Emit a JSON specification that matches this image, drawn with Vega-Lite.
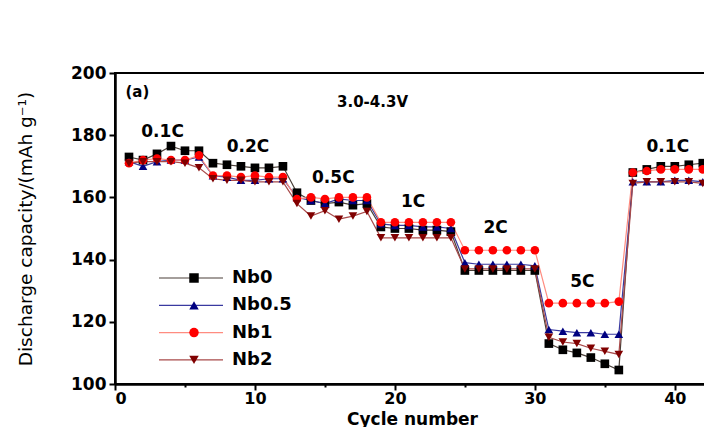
{
  "$schema": "https://vega.github.io/schema/vega-lite/v6.json",
  "autosize": "none",
  "width": 592,
  "height": 311,
  "padding": {"left": 115, "top": 73, "right": 0, "bottom": 43},
  "background": "white",
  "config": {
    "view": {"stroke": "black", "strokeWidth": 2},
    "font": "DejaVu Sans",
    "axis": {
      "domainColor": "black", "domainWidth": 2.5,
      "tickColor": "black", "tickWidth": 2,
      "labelFont": "DejaVu Sans", "labelFontWeight": "bold", "labelFontSize": 17, "labelColor": "black",
      "titleFont": "DejaVu Sans", "titleColor": "black",
      "grid": false
    }
  },
  "datasets": {
    "cap": [
      {"cycle":1,"s":"Nb0","v":173},{"cycle":2,"s":"Nb0","v":172},{"cycle":3,"s":"Nb0","v":174},{"cycle":4,"s":"Nb0","v":176.5},{"cycle":5,"s":"Nb0","v":175},{"cycle":6,"s":"Nb0","v":175},
      {"cycle":7,"s":"Nb0","v":171},{"cycle":8,"s":"Nb0","v":170.5},{"cycle":9,"s":"Nb0","v":170},{"cycle":10,"s":"Nb0","v":169.5},{"cycle":11,"s":"Nb0","v":169.5},{"cycle":12,"s":"Nb0","v":170},
      {"cycle":13,"s":"Nb0","v":161.5},{"cycle":14,"s":"Nb0","v":159},{"cycle":15,"s":"Nb0","v":158},{"cycle":16,"s":"Nb0","v":158.5},{"cycle":17,"s":"Nb0","v":157.5},{"cycle":18,"s":"Nb0","v":158},
      {"cycle":19,"s":"Nb0","v":150.5},{"cycle":20,"s":"Nb0","v":150},{"cycle":21,"s":"Nb0","v":150},{"cycle":22,"s":"Nb0","v":149.5},{"cycle":23,"s":"Nb0","v":149.5},{"cycle":24,"s":"Nb0","v":149},
      {"cycle":25,"s":"Nb0","v":136.5},{"cycle":26,"s":"Nb0","v":136.5},{"cycle":27,"s":"Nb0","v":136.5},{"cycle":28,"s":"Nb0","v":136.5},{"cycle":29,"s":"Nb0","v":136.5},{"cycle":30,"s":"Nb0","v":136.5},
      {"cycle":31,"s":"Nb0","v":113},{"cycle":32,"s":"Nb0","v":111},{"cycle":33,"s":"Nb0","v":110},{"cycle":34,"s":"Nb0","v":108.5},{"cycle":35,"s":"Nb0","v":106.5},{"cycle":36,"s":"Nb0","v":104.5},
      {"cycle":37,"s":"Nb0","v":168},{"cycle":38,"s":"Nb0","v":169},{"cycle":39,"s":"Nb0","v":170},{"cycle":40,"s":"Nb0","v":170},{"cycle":41,"s":"Nb0","v":170.5},{"cycle":42,"s":"Nb0","v":171},

      {"cycle":1,"s":"Nb0.5","v":171.5},{"cycle":2,"s":"Nb0.5","v":170},{"cycle":3,"s":"Nb0.5","v":171.5},{"cycle":4,"s":"Nb0.5","v":172},{"cycle":5,"s":"Nb0.5","v":172},{"cycle":6,"s":"Nb0.5","v":173},
      {"cycle":7,"s":"Nb0.5","v":167},{"cycle":8,"s":"Nb0.5","v":166.5},{"cycle":9,"s":"Nb0.5","v":165.5},{"cycle":10,"s":"Nb0.5","v":165.5},{"cycle":11,"s":"Nb0.5","v":166},{"cycle":12,"s":"Nb0.5","v":166},
      {"cycle":13,"s":"Nb0.5","v":160},{"cycle":14,"s":"Nb0.5","v":159},{"cycle":15,"s":"Nb0.5","v":158},{"cycle":16,"s":"Nb0.5","v":159.5},{"cycle":17,"s":"Nb0.5","v":159},{"cycle":18,"s":"Nb0.5","v":159},
      {"cycle":19,"s":"Nb0.5","v":151.5},{"cycle":20,"s":"Nb0.5","v":151},{"cycle":21,"s":"Nb0.5","v":151},{"cycle":22,"s":"Nb0.5","v":150.5},{"cycle":23,"s":"Nb0.5","v":150.5},{"cycle":24,"s":"Nb0.5","v":150},
      {"cycle":25,"s":"Nb0.5","v":139},{"cycle":26,"s":"Nb0.5","v":138.5},{"cycle":27,"s":"Nb0.5","v":138.5},{"cycle":28,"s":"Nb0.5","v":138.5},{"cycle":29,"s":"Nb0.5","v":138.5},{"cycle":30,"s":"Nb0.5","v":138},
      {"cycle":31,"s":"Nb0.5","v":117.5},{"cycle":32,"s":"Nb0.5","v":117},{"cycle":33,"s":"Nb0.5","v":116.5},{"cycle":34,"s":"Nb0.5","v":116.5},{"cycle":35,"s":"Nb0.5","v":116},{"cycle":36,"s":"Nb0.5","v":116},
      {"cycle":37,"s":"Nb0.5","v":165},{"cycle":38,"s":"Nb0.5","v":165},{"cycle":39,"s":"Nb0.5","v":165},{"cycle":40,"s":"Nb0.5","v":165.5},{"cycle":41,"s":"Nb0.5","v":165.5},{"cycle":42,"s":"Nb0.5","v":165},

      {"cycle":1,"s":"Nb1","v":171},{"cycle":2,"s":"Nb1","v":172},{"cycle":3,"s":"Nb1","v":172.5},{"cycle":4,"s":"Nb1","v":172},{"cycle":5,"s":"Nb1","v":172},{"cycle":6,"s":"Nb1","v":173.5},
      {"cycle":7,"s":"Nb1","v":167},{"cycle":8,"s":"Nb1","v":167},{"cycle":9,"s":"Nb1","v":166.5},{"cycle":10,"s":"Nb1","v":167},{"cycle":11,"s":"Nb1","v":166.5},{"cycle":12,"s":"Nb1","v":166.5},
      {"cycle":13,"s":"Nb1","v":159.5},{"cycle":14,"s":"Nb1","v":160},{"cycle":15,"s":"Nb1","v":159.5},{"cycle":16,"s":"Nb1","v":160},{"cycle":17,"s":"Nb1","v":160},{"cycle":18,"s":"Nb1","v":160},
      {"cycle":19,"s":"Nb1","v":152},{"cycle":20,"s":"Nb1","v":152},{"cycle":21,"s":"Nb1","v":152},{"cycle":22,"s":"Nb1","v":152},{"cycle":23,"s":"Nb1","v":152},{"cycle":24,"s":"Nb1","v":152},
      {"cycle":25,"s":"Nb1","v":143},{"cycle":26,"s":"Nb1","v":143},{"cycle":27,"s":"Nb1","v":143},{"cycle":28,"s":"Nb1","v":143},{"cycle":29,"s":"Nb1","v":143},{"cycle":30,"s":"Nb1","v":143},
      {"cycle":31,"s":"Nb1","v":126},{"cycle":32,"s":"Nb1","v":126},{"cycle":33,"s":"Nb1","v":126},{"cycle":34,"s":"Nb1","v":126},{"cycle":35,"s":"Nb1","v":126},{"cycle":36,"s":"Nb1","v":126.5},
      {"cycle":37,"s":"Nb1","v":168},{"cycle":38,"s":"Nb1","v":168.5},{"cycle":39,"s":"Nb1","v":169},{"cycle":40,"s":"Nb1","v":169},{"cycle":41,"s":"Nb1","v":169},{"cycle":42,"s":"Nb1","v":169},

      {"cycle":1,"s":"Nb2","v":171},{"cycle":2,"s":"Nb2","v":171.5},{"cycle":3,"s":"Nb2","v":171.5},{"cycle":4,"s":"Nb2","v":171.5},{"cycle":5,"s":"Nb2","v":171},{"cycle":6,"s":"Nb2","v":169.5},
      {"cycle":7,"s":"Nb2","v":166},{"cycle":8,"s":"Nb2","v":165.5},{"cycle":9,"s":"Nb2","v":165.5},{"cycle":10,"s":"Nb2","v":165},{"cycle":11,"s":"Nb2","v":165},{"cycle":12,"s":"Nb2","v":165},
      {"cycle":13,"s":"Nb2","v":158},{"cycle":14,"s":"Nb2","v":154},{"cycle":15,"s":"Nb2","v":155.7},{"cycle":16,"s":"Nb2","v":153},{"cycle":17,"s":"Nb2","v":154},{"cycle":18,"s":"Nb2","v":155.5},
      {"cycle":19,"s":"Nb2","v":147},{"cycle":20,"s":"Nb2","v":147},{"cycle":21,"s":"Nb2","v":147},{"cycle":22,"s":"Nb2","v":147},{"cycle":23,"s":"Nb2","v":147},{"cycle":24,"s":"Nb2","v":147},
      {"cycle":25,"s":"Nb2","v":137},{"cycle":26,"s":"Nb2","v":137},{"cycle":27,"s":"Nb2","v":137},{"cycle":28,"s":"Nb2","v":137},{"cycle":29,"s":"Nb2","v":137},{"cycle":30,"s":"Nb2","v":137},
      {"cycle":31,"s":"Nb2","v":115},{"cycle":32,"s":"Nb2","v":113.5},{"cycle":33,"s":"Nb2","v":113},{"cycle":34,"s":"Nb2","v":111.5},{"cycle":35,"s":"Nb2","v":110.5},{"cycle":36,"s":"Nb2","v":109.5},
      {"cycle":37,"s":"Nb2","v":164.5},{"cycle":38,"s":"Nb2","v":165},{"cycle":39,"s":"Nb2","v":165},{"cycle":40,"s":"Nb2","v":165},{"cycle":41,"s":"Nb2","v":165},{"cycle":42,"s":"Nb2","v":164.5}
    ],
    "notes": [
      {"cycle":1.6,"v":193.9,"t":"(a)","fs":15},
      {"cycle":18.4,"v":190.7,"t":"3.0-4.3V","fs":15},
      {"cycle":3.4,"v":181,"t":"0.1C","fs":17},
      {"cycle":9.5,"v":176.2,"t":"0.2C","fs":17},
      {"cycle":15.6,"v":166.2,"t":"0.5C","fs":17},
      {"cycle":21.3,"v":158.5,"t":"1C","fs":17},
      {"cycle":27.2,"v":150.2,"t":"2C","fs":17},
      {"cycle":33.4,"v":132.8,"t":"5C","fs":17},
      {"cycle":39.5,"v":176.2,"t":"0.1C","fs":17}
    ]
  },
  "layer": [
    {
      "data": {"name": "cap"},
      "mark": {"type": "line", "strokeWidth": 1.2, "clip": true},
      "encoding": {
        "x": {"field": "cycle", "type": "quantitative",
              "scale": {"domain": [0, 42.3], "nice": false, "zero": false},
              "axis": {"values": [0,5,10,15,20,25,30,35,40], "labelExpr": "datum.value % 10 === 0 ? datum.label : ''",
                       "tickSize": {"condition": {"test": "datum.value % 10 === 0", "value": 6}, "value": 3},
                       "labelFontSize": 16, "labelPadding": 0, "title": "Cycle number", "titleFontSize": 17, "titleFontWeight": "bold",
                       "titleX": 297, "titleY": 35, "titleBaseline": "middle"}},
        "y": {"field": "v", "type": "quantitative",
              "scale": {"domain": [100, 200], "nice": false, "zero": false},
              "axis": {"values": [100,110,120,130,140,150,160,170,180,190,200], "labelExpr": "datum.value % 20 === 0 ? datum.label : ''",
                       "tickSize": {"condition": {"test": "datum.value % 20 === 0", "value": 6}, "value": 3},
                       "labelPadding": 3,
                       "title": "Discharge capacity/(mAh g\u207b\u00b9)", "titleFontSize": 18.5, "titleFontWeight": "normal",
                       "titleX": -90, "titleY": 155.5, "titleAngle": -90, "titleAlign": "center", "titleBaseline": "middle"}},
        "detail": {"field": "s"},
        "stroke": {"field": "s", "type": "nominal",
                   "scale": {"range": ["#4a3f38", "#3a3aa0", "#ff8c80", "#a84a4a"]},
                   "legend": {"orient": "none", "legendX": 43, "legendY": 197, "title": null, "symbolType": "stroke",
                              "symbolSize": 4096, "symbolStrokeWidth": 1.2, "clipHeight": 16, "rowPadding": 9.3,
                              "labelFontSize": 18, "labelFontWeight": "bold", "labelColor": "black", "labelFont": "DejaVu Sans", "labelOffset": 8}}
      }
    },
    {
      "data": {"name": "cap"},
      "mark": {"type": "point", "filled": true, "opacity": 1, "size": 75, "clip": true},
      "encoding": {
        "x": {"field": "cycle", "type": "quantitative"},
        "y": {"field": "v", "type": "quantitative"},
        "fill": {"field": "s", "type": "nominal",
                 "scale": {"domain": ["Nb0","Nb0.5","Nb1","Nb2"], "range": ["#000000", "#000080", "#ff0000", "#800000"]},
                 "legend": {"orient": "none", "legendX": 70, "legendY": 197, "title": null, "symbolSize": 90,
                            "clipHeight": 16, "rowPadding": 9.3, "labelFontSize": 18, "labelExpr": "''", "symbolStrokeWidth": 0}},
        "shape": {"field": "s", "type": "nominal",
                  "scale": {"domain": ["Nb0","Nb0.5","Nb1","Nb2"], "range": ["square", "triangle-up", "circle", "triangle-down"]},
                  "legend": {"orient": "none", "legendX": 70, "legendY": 197, "title": null, "symbolSize": 90,
                             "clipHeight": 16, "rowPadding": 9.3, "labelFontSize": 18, "labelExpr": "''", "symbolStrokeWidth": 0}}
      }
    },
    {
      "data": {"name": "notes"},
      "mark": {"type": "text", "align": "center", "baseline": "middle", "font": "DejaVu Sans", "fontWeight": "bold", "color": "black"},
      "encoding": {
        "x": {"field": "cycle", "type": "quantitative"},
        "y": {"field": "v", "type": "quantitative"},
        "text": {"field": "t"},
        "size": {"field": "fs", "type": "quantitative", "scale": null}
      }
    }
  ]
}
